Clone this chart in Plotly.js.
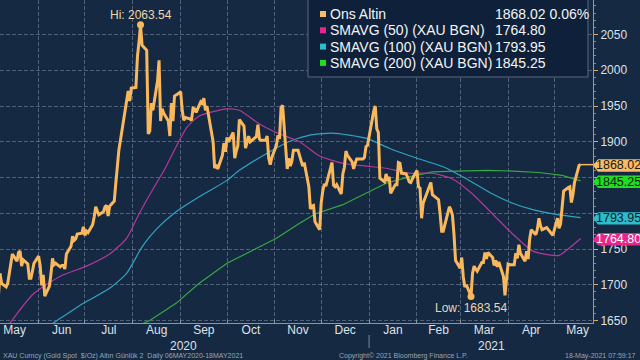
<!DOCTYPE html>
<html><head><meta charset="utf-8">
<script src="https://cdn.plot.ly/plotly-3.0.1.min.js"></script>
<style>html,body{margin:0;padding:0;background:#152942;}#chart{width:640px;height:360px;}</style>
</head><body><div id="chart"></div>
<script>
// ---- Gold spot (Ons Altin), daily closes ----
const goldDates = [
'2020-05-06','2020-05-07','2020-05-08','2020-05-11','2020-05-12','2020-05-13','2020-05-14','2020-05-15','2020-05-18','2020-05-19','2020-05-20','2020-05-21','2020-05-22','2020-05-25','2020-05-26','2020-05-27','2020-05-28','2020-05-29',
'2020-06-01','2020-06-02','2020-06-03','2020-06-04','2020-06-05','2020-06-08','2020-06-09','2020-06-10','2020-06-11','2020-06-12','2020-06-15','2020-06-16','2020-06-17','2020-06-18','2020-06-19','2020-06-22','2020-06-23','2020-06-24','2020-06-25','2020-06-26','2020-06-29','2020-06-30',
'2020-07-01','2020-07-02','2020-07-03','2020-07-06','2020-07-07','2020-07-08','2020-07-09','2020-07-10','2020-07-13','2020-07-14','2020-07-15','2020-07-16','2020-07-17','2020-07-20','2020-07-21','2020-07-22','2020-07-23','2020-07-24','2020-07-27','2020-07-28','2020-07-29','2020-07-30','2020-07-31',
'2020-08-03','2020-08-04','2020-08-05','2020-08-06','2020-08-07','2020-08-10','2020-08-11','2020-08-12','2020-08-13','2020-08-14','2020-08-17','2020-08-18','2020-08-19','2020-08-20','2020-08-21','2020-08-24','2020-08-25','2020-08-26','2020-08-27','2020-08-28','2020-08-31',
'2020-09-01','2020-09-02','2020-09-03','2020-09-04','2020-09-07','2020-09-08','2020-09-09','2020-09-10','2020-09-11','2020-09-14','2020-09-15','2020-09-16','2020-09-17','2020-09-18','2020-09-21','2020-09-22','2020-09-23','2020-09-24','2020-09-25','2020-09-28','2020-09-29','2020-09-30',
'2020-10-01','2020-10-02','2020-10-05','2020-10-06','2020-10-07','2020-10-08','2020-10-09','2020-10-12','2020-10-13','2020-10-14','2020-10-15','2020-10-16','2020-10-19','2020-10-20','2020-10-21','2020-10-22','2020-10-23','2020-10-26','2020-10-27','2020-10-28','2020-10-29','2020-10-30',
'2020-11-02','2020-11-03','2020-11-04','2020-11-05','2020-11-06','2020-11-09','2020-11-10','2020-11-11','2020-11-12','2020-11-13','2020-11-16','2020-11-17','2020-11-18','2020-11-19','2020-11-20','2020-11-23','2020-11-24','2020-11-25','2020-11-26','2020-11-27','2020-11-30',
'2020-12-01','2020-12-02','2020-12-03','2020-12-04','2020-12-07','2020-12-08','2020-12-09','2020-12-10','2020-12-11','2020-12-14','2020-12-15','2020-12-16','2020-12-17','2020-12-18','2020-12-21','2020-12-22','2020-12-23','2020-12-24','2020-12-28','2020-12-29','2020-12-30','2020-12-31',
'2021-01-04','2021-01-05','2021-01-06','2021-01-07','2021-01-08','2021-01-11','2021-01-12','2021-01-13','2021-01-14','2021-01-15','2021-01-18','2021-01-19','2021-01-20','2021-01-21','2021-01-22','2021-01-25','2021-01-26','2021-01-27','2021-01-28','2021-01-29',
'2021-02-01','2021-02-02','2021-02-03','2021-02-04','2021-02-05','2021-02-08','2021-02-09','2021-02-10','2021-02-11','2021-02-12','2021-02-15','2021-02-16','2021-02-17','2021-02-18','2021-02-19','2021-02-22','2021-02-23','2021-02-24','2021-02-25','2021-02-26',
'2021-03-01','2021-03-02','2021-03-03','2021-03-04','2021-03-05','2021-03-08','2021-03-09','2021-03-10','2021-03-11','2021-03-12','2021-03-15','2021-03-16','2021-03-17','2021-03-18','2021-03-19','2021-03-22','2021-03-23','2021-03-24','2021-03-25','2021-03-26','2021-03-29','2021-03-30','2021-03-31',
'2021-04-01','2021-04-02','2021-04-05','2021-04-06','2021-04-07','2021-04-08','2021-04-09','2021-04-12','2021-04-13','2021-04-14','2021-04-15','2021-04-16','2021-04-19','2021-04-20','2021-04-21','2021-04-22','2021-04-23','2021-04-26','2021-04-27','2021-04-28','2021-04-29','2021-04-30',
'2021-05-03','2021-05-04','2021-05-05','2021-05-06','2021-05-07','2021-05-10','2021-05-11','2021-05-12','2021-05-13','2021-05-14','2021-05-17','2021-05-18'];
const goldValues = [
1685,1716,1702,1697,1702,1716,1731,1743,1733,1745,1747,1726,1735,1729,1709,1709,1719,1730,
1740,1727,1699,1714,1684,1698,1715,1737,1728,1730,1725,1727,1727,1722,1743,1754,1768,1762,1764,1771,1772,1781,
1769,1775,1773,1784,1795,1809,1803,1798,1802,1809,1811,1796,1810,1817,1842,1871,1889,1902,1941,1959,1971,1957,1975,
1976,2019,2039,2063.54,2035,2028,1911,1915,1954,1944,1985,2014,1929,1946,1940,1929,1908,1954,1929,1964,1968,
1970,1944,1930,1934,1932,1930,1947,1946,1941,1956,1954,1961,1944,1950,1912,1900,1863,1868,1862,1881,1898,1886,
1906,1900,1913,1877,1887,1894,1931,1922,1891,1902,1908,1900,1905,1907,1924,1904,1902,1902,1908,1877,1868,1878,
1895,1909,1904,1948,1951,1862,1877,1866,1873,1888,1888,1880,1871,1866,1871,1837,1806,1810,1811,1788,1777,
1815,1831,1841,1838,1864,1871,1839,1837,1840,1827,1855,1864,1887,1881,1872,1862,1870,1876,1876,1878,1893,1895,
1943,1950,1918,1913,1849,1844,1855,1845,1851,1828,1840,1840,1871,1870,1856,1855,1850,1844,1843,1848,
1860,1837,1835,1793,1814,1833,1838,1843,1826,1824,1819,1799,1775,1775,1784,1809,1805,1797,1770,1734,
1723,1738,1711,1697,1700,1683.54,1716,1726,1722,1719,1731,1731,1745,1736,1745,1738,1727,1734,1725,1732,1712,1685,1708,
1729,1728,1728,1744,1737,1756,1744,1733,1747,1736,1764,1777,1770,1778,1793,1783,1777,1780,1777,1774,1772,1769,
1793,1779,1785,1815,1831,1836,1837,1815,1826,1843,1867,1868.02];
const goldChangePct = 0.06;

// ---- Moving averages ----
const sma50Dates = ['2020-05-07','2020-05-13','2020-05-28','2020-06-15','2020-07-02','2020-07-17','2020-07-28','2020-08-05','2020-08-16','2020-08-21','2020-09-05','2020-09-13','2020-10-01','2020-10-09','2020-10-22','2020-11-04','2020-11-17','2020-11-30','2020-12-15','2020-12-30','2021-01-12','2021-01-27','2021-02-11','2021-02-24','2021-03-09','2021-03-22','2021-04-04','2021-04-17','2021-04-30','2021-05-04','2021-05-18'];
const sma50Values = [1628,1645,1686,1712,1726,1743,1765,1799,1841,1859,1920,1936,1946,1944,1925,1911,1900,1880,1870,1866,1863,1856,1856,1848,1827,1799,1771,1747,1741,1741,1764.80];
const sma100Dates = ['2020-05-07','2020-06-13','2020-06-30','2020-07-17','2020-07-28','2020-08-07','2020-08-16','2020-08-29','2020-09-13','2020-10-01','2020-10-09','2020-10-27','2020-11-10','2020-11-23','2020-12-08','2020-12-30','2021-01-14','2021-02-01','2021-02-18','2021-03-06','2021-03-21','2021-04-04','2021-04-17','2021-05-03','2021-05-18'];
const sma100Values = [1600,1650,1674,1695,1716,1753,1777,1802,1823,1846,1860,1884,1900,1909,1912,1905,1891,1877,1865,1847,1828,1814,1805,1798,1793.95];
const sma200Dates = ['2020-06-20','2020-08-12','2020-08-29','2020-09-13','2020-10-01','2020-10-18','2020-11-02','2020-11-17','2020-11-27','2020-12-15','2020-12-30','2021-01-12','2021-01-27','2021-02-11','2021-02-27','2021-03-19','2021-04-04','2021-04-21','2021-05-06','2021-05-18'];
const sma200Values = [1600,1650,1674,1702,1730,1749,1765,1786,1799,1812,1828,1842,1851,1858,1859,1860,1859,1857,1853,1845.25];

const legendLabels = ['Ons Altin','SMAVG (50) (XAU BGN)','SMAVG (100) (XAU BGN)','SMAVG (200) (XAU BGN)'];
const yTickVals = [1650,1700,1750,1800,1850,1900,1950,2000,2050];
const yTickText = ['1650','1700','1750','','','1900','1950','2000','2050'];
const lineColors = ['#f9b85c','#b3389c','#33a2c2','#38a843'];
const tagColors  = ['#f9bb66','#e6268c','#2cbccb','#22dd22'];

// ---- layout constants ----
const W = 640, H = 360, PW = 593, PH = 323;
const Y0 = 1646.5, Y1 = 2098.3;
const X0 = '2020-05-07', X1 = '2021-05-26';
const bg = '#152942';
const txt = '#dde2e8';
const fontFam = 'Liberation Sans, Arial, sans-serif';
const px = x => x / PW;
const py = y => 1 - y / PH;
const vy = v => (v - Y0) / (Y1 - Y0);

const last = a => a[a.length - 1];
const iMax = goldValues.indexOf(Math.max(...goldValues));
const iMin = goldValues.indexOf(Math.min(...goldValues));

const traces = [
  {x: sma200Dates, y: sma200Values, type: 'scatter', mode: 'lines', line: {color: lineColors[3], width: 1.2}, hoverinfo: 'skip'},
  {x: sma100Dates, y: sma100Values, type: 'scatter', mode: 'lines', line: {color: lineColors[2], width: 1.2, shape: 'spline', smoothing: 0.6}, hoverinfo: 'skip'},
  {x: sma50Dates, y: sma50Values, type: 'scatter', mode: 'lines', line: {color: lineColors[1], width: 1.2, shape: 'spline', smoothing: 0.6}, hoverinfo: 'skip'},
  {x: goldDates, y: goldValues, type: 'scatter', mode: 'lines', line: {color: lineColors[0], width: 3}, hoverinfo: 'skip'},
  {x: [goldDates[iMax], goldDates[iMin]], y: [goldValues[iMax], goldValues[iMin]], type: 'scatter', mode: 'markers',
   marker: {color: lineColors[0], size: 7}, hoverinfo: 'skip'}
];

const shapes = [];
const annotations = [];

// Last-price connector
shapes.push({type: 'line', xref: 'x', yref: 'y', x0: last(goldDates), x1: X1, y0: last(goldValues), y1: last(goldValues),
  line: {color: lineColors[0], width: 1.5}});

// Legend box
shapes.push({type: 'rect', xref: 'paper', yref: 'paper', x0: px(308), x1: px(588), y0: py(77), y1: py(-2),
  fillcolor: '#0f213a', line: {color: '#5b6b7e', width: 1}, layer: 'above'});
const legendVals = [last(goldValues), last(sma50Values), last(sma100Values), last(sma200Values)];
const legendSwatch = [tagColors[0], tagColors[1], tagColors[2], tagColors[3]];
legendLabels.forEach((lab, i) => {
  const rowY = 14 + i * 16.3;
  shapes.push({type: 'rect', xref: 'paper', yref: 'paper', x0: px(320), x1: px(326), y0: py(rowY + 3), y1: py(rowY - 3),
    fillcolor: legendSwatch[i], line: {width: 0}, layer: 'above'});
  annotations.push({xref: 'paper', yref: 'paper', x: px(328), y: py(rowY), text: lab, showarrow: false,
    xanchor: 'left', yanchor: 'middle', font: {family: fontFam, size: 14, color: '#f2f4f6'}});
  annotations.push({xref: 'paper', yref: 'paper', x: px(493), y: py(rowY),
    text: legendVals[i].toFixed(2) + (i === 0 ? ' ' + goldChangePct.toFixed(2) + '%' : ''), showarrow: false,
    xanchor: 'left', yanchor: 'middle', font: {family: fontFam, size: 14, color: '#f2f4f6'}});
});

// Right-edge value tags
const tagVals = [last(goldValues), last(sma200Values), last(sma100Values), last(sma50Values)];
const tagCols = [tagColors[0], tagColors[3], tagColors[2], tagColors[1]];
const tagText = ['#1a1a1a', '#0d1a0d', '#0d1a1f', '#ffffff'];
const hh = 6.2 / PH;
tagVals.forEach((v, i) => {
  const yc = vy(v) - 0.8 / PH;
  const xa = 1, xb = 1 + 5 / PW, xc = W / PW;
  shapes.push({type: 'path', xref: 'paper', yref: 'paper', layer: 'above',
    path: `M ${xa} ${yc} L ${xb} ${yc + hh} L ${xc} ${yc + hh} L ${xc} ${yc - hh} L ${xb} ${yc - hh} Z`,
    fillcolor: tagCols[i], line: {width: 0}});
  annotations.push({xref: 'paper', yref: 'paper', x: px(619), y: yc, text: v.toFixed(2), showarrow: false,
    xanchor: 'center', yanchor: 'middle', font: {family: fontFam, size: 12.5, color: tagText[i]}});
});

// Hi / Low labels
annotations.push({x: goldDates[iMax], y: goldValues[iMax], xref: 'x', yref: 'y', text: 'Hi: ' + goldValues[iMax].toFixed(2),
  showarrow: false, yshift: 1, yanchor: 'bottom', font: {family: fontFam, size: 12, color: '#ead7b0'}});
annotations.push({x: goldDates[iMin], y: goldValues[iMin], xref: 'x', yref: 'y', text: 'Low: ' + goldValues[iMin].toFixed(2),
  showarrow: false, yshift: -2, yanchor: 'top', font: {family: fontFam, size: 12, color: '#ead7b0'}});

// Year labels and separator
annotations.push({xref: 'x', yref: 'paper', x: '2020-09-03', y: py(346), text: '2020', showarrow: false,
  xanchor: 'center', yanchor: 'middle', font: {family: fontFam, size: 12, color: txt}});
annotations.push({xref: 'x', yref: 'paper', x: '2021-03-21', y: py(346), text: '2021', showarrow: false,
  xanchor: 'center', yanchor: 'middle', font: {family: fontFam, size: 12, color: txt}});
shapes.push({type: 'line', xref: 'x', yref: 'paper', x0: '2021-01-01', x1: '2021-01-01', y0: py(335), y1: py(348),
  line: {color: '#7d8a99', width: 1}});

// Footer
const foot = {family: fontFam, size: 7, color: '#9aa5b2'};
annotations.push({xref: 'paper', yref: 'paper', x: px(1), y: py(355.5), xanchor: 'left', yanchor: 'middle', showarrow: false,
  text: 'XAU Curncy (Gold Spot  $/Oz) Altın Günlük 2  Daily 06MAY2020-18MAY2021', font: foot});
annotations.push({xref: 'paper', yref: 'paper', x: px(403), y: py(355.5), xanchor: 'center', yanchor: 'middle', showarrow: false,
  text: 'Copyright© 2021 Bloomberg Finance L.P.', font: foot});
annotations.push({xref: 'paper', yref: 'paper', x: px(638), y: py(355.5), xanchor: 'right', yanchor: 'middle', showarrow: false,
  text: '18-May-2021 07:59:17', font: foot});

const gridCol = 'rgba(150,165,185,0.45)';
const layout = {
  width: W, height: H,
  margin: {l: 0, r: W - PW, t: 0, b: H - PH, pad: 0},
  paper_bgcolor: bg, plot_bgcolor: bg,
  showlegend: false,
  xaxis: {
    type: 'date', range: [X0, X1], dtick: 'M1', tick0: '2020-05-01', tickformat: '%b', ticklabelmode: 'period',
    showgrid: true, gridcolor: gridCol, griddash: '4px,2px', gridwidth: 1,
    ticks: 'inside', ticklen: 3, tickcolor: '#8a96a4', ticklabelstandoff: -4,
    showline: true, linecolor: '#8a96a4', linewidth: 1,
    tickfont: {family: fontFam, size: 12, color: txt}, fixedrange: true
  },
  yaxis: {
    side: 'right', range: [Y0, Y1], tickmode: 'array', tickvals: yTickVals, ticktext: yTickText,
    showgrid: true, gridcolor: gridCol, griddash: '4px,2px', gridwidth: 1, zeroline: false,
    ticks: 'outside', ticklen: 4, tickcolor: '#d9a866',
    minor: {dtick: 10, tick0: 1650, ticks: 'outside', ticklen: 2, tickcolor: '#8a8a80', showgrid: false},
    showline: true, linecolor: '#a09a8c', linewidth: 1,
    tickfont: {family: fontFam, size: 12, color: txt}, fixedrange: true
  },
  shapes: shapes,
  annotations: annotations
};

Plotly.newPlot('chart', traces, layout, {staticPlot: true, displayModeBar: false});
</script></body></html>
